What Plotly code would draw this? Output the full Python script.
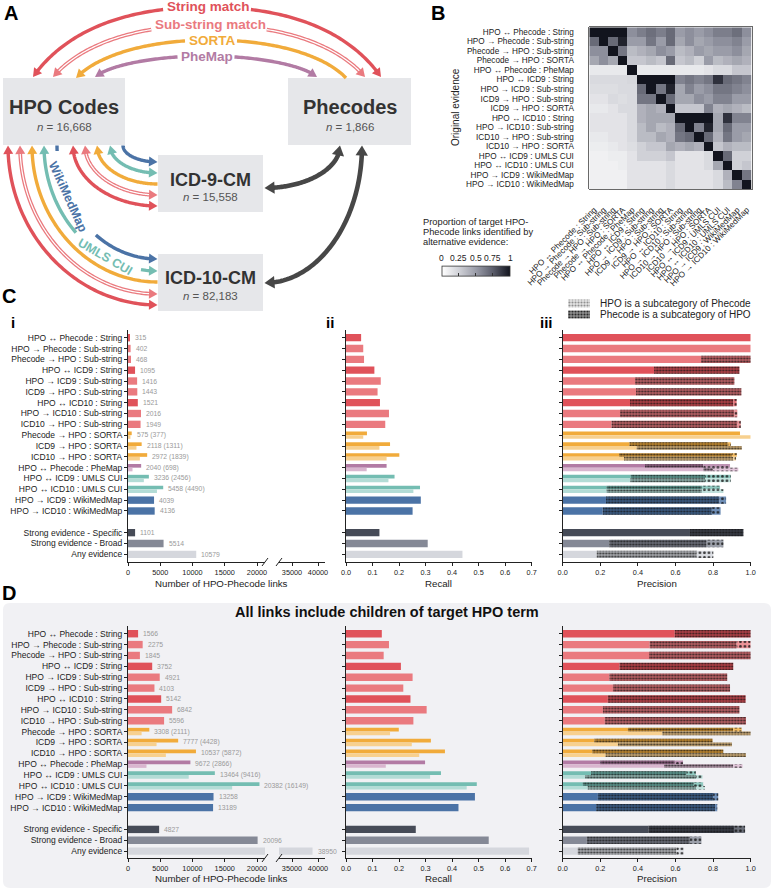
import numpy as np
import plotly.graph_objects as go

W, H = 775, 891
FONT = "Liberation Sans, Arial, Helvetica, sans-serif"


def X(px):
    return px / W


def Y(py):
    return 1 - py / H


# ------------------------------------------------------------------ DATA
evidence_labels = [
    "HPO ↔ Phecode : String", "HPO → Phecode : Sub-string", "Phecode → HPO : Sub-string",
    "Phecode → HPO : SORTA", "HPO ↔ Phecode : PheMap", "HPO ↔ ICD9 : String",
    "HPO → ICD9 : Sub-string", "ICD9 → HPO : Sub-string", "ICD9 → HPO : SORTA",
    "HPO ↔ ICD10 : String", "HPO → ICD10 : Sub-string", "ICD10 → HPO : Sub-string",
    "ICD10 → HPO : SORTA", "HPO ↔ ICD9 : UMLS CUI", "HPO ↔ ICD10 : UMLS CUI",
    "HPO → ICD9 : WikiMedMap", "HPO → ICD10 : WikiMedMap"]
evidence_groups = ["String", "Sub", "Sub", "SORTA", "PheMap", "String", "Sub", "Sub", "SORTA",
                   "String", "Sub", "Sub", "SORTA", "UMLS", "UMLS", "Wiki", "Wiki"]
heat_values = [
    [1.00, 1.00, 1.00, 1.00, 0.55, 0.62, 0.68, 0.62, 0.70, 0.50, 0.55, 0.50, 0.55, 0.62, 0.62, 0.68, 0.55],
    [0.70, 1.00, 0.70, 0.95, 0.50, 0.50, 0.65, 0.50, 0.70, 0.45, 0.55, 0.45, 0.50, 0.55, 0.55, 0.60, 0.50],
    [0.55, 0.55, 1.00, 0.65, 0.35, 0.40, 0.45, 0.55, 0.50, 0.35, 0.40, 0.50, 0.45, 0.50, 0.50, 0.55, 0.45],
    [0.45, 0.55, 0.45, 1.00, 0.30, 0.30, 0.35, 0.30, 0.70, 0.30, 0.35, 0.25, 0.50, 0.35, 0.40, 0.45, 0.40],
    [0.12, 0.12, 0.12, 0.12, 1.00, 0.12, 0.12, 0.12, 0.12, 0.12, 0.12, 0.12, 0.15, 0.20, 0.20, 0.30, 0.30],
    [0.20, 0.20, 0.20, 0.20, 0.22, 1.00, 1.00, 1.00, 1.00, 0.60, 0.65, 0.60, 0.65, 0.90, 0.70, 0.65, 0.60],
    [0.18, 0.18, 0.18, 0.20, 0.20, 0.70, 1.00, 0.65, 0.95, 0.45, 0.60, 0.50, 0.55, 0.65, 0.65, 0.60, 0.55],
    [0.15, 0.15, 0.20, 0.18, 0.20, 0.65, 0.65, 1.00, 0.70, 0.45, 0.45, 0.55, 0.50, 0.60, 0.60, 0.50, 0.50],
    [0.12, 0.12, 0.15, 0.20, 0.20, 0.40, 0.45, 0.40, 1.00, 0.30, 0.30, 0.30, 0.60, 0.40, 0.45, 0.40, 0.35],
    [0.15, 0.15, 0.15, 0.15, 0.20, 0.40, 0.45, 0.45, 0.45, 1.00, 1.00, 1.00, 1.00, 0.45, 0.90, 0.60, 0.60],
    [0.15, 0.15, 0.15, 0.15, 0.20, 0.35, 0.45, 0.35, 0.40, 0.70, 1.00, 0.60, 0.95, 0.45, 0.70, 0.50, 0.50],
    [0.12, 0.12, 0.15, 0.15, 0.20, 0.35, 0.35, 0.45, 0.40, 0.65, 0.70, 1.00, 0.70, 0.40, 0.65, 0.50, 0.45],
    [0.10, 0.10, 0.12, 0.15, 0.18, 0.25, 0.30, 0.30, 0.45, 0.40, 0.45, 0.40, 1.00, 0.30, 0.40, 0.35, 0.35],
    [0.08, 0.08, 0.10, 0.10, 0.15, 0.25, 0.25, 0.25, 0.30, 0.15, 0.15, 0.15, 0.20, 1.00, 0.70, 0.25, 0.25],
    [0.08, 0.08, 0.08, 0.10, 0.15, 0.15, 0.15, 0.15, 0.20, 0.15, 0.15, 0.15, 0.20, 0.45, 1.00, 0.25, 0.30],
    [0.08, 0.08, 0.08, 0.08, 0.15, 0.15, 0.15, 0.15, 0.20, 0.15, 0.15, 0.15, 0.15, 0.20, 0.40, 1.00, 0.65],
    [0.08, 0.08, 0.08, 0.08, 0.15, 0.15, 0.15, 0.15, 0.20, 0.15, 0.15, 0.15, 0.15, 0.20, 0.35, 0.60, 1.00],
]
colorbar_ticks = [0, 0.25, 0.5, 0.75, 1]

bar_labels = [
    "HPO ↔ Phecode : String", "HPO → Phecode : Sub-string", "Phecode → HPO : Sub-string",
    "HPO ↔ ICD9 : String", "HPO → ICD9 : Sub-string", "ICD9 → HPO : Sub-string",
    "HPO ↔ ICD10 : String", "HPO → ICD10 : Sub-string", "ICD10 → HPO : Sub-string",
    "Phecode → HPO : SORTA", "ICD9 → HPO : SORTA", "ICD10 → HPO : SORTA",
    "HPO ↔ Phecode : PheMap", "HPO ↔ ICD9 : UMLS CUI", "HPO ↔ ICD10 : UMLS CUI",
    "HPO → ICD9 : WikiMedMap", "HPO → ICD10 : WikiMedMap",
    "Strong evidence - Specific", "Strong evidence - Broad", "Any evidence"]
bar_groups = ["String", "Sub", "Sub", "String", "Sub", "Sub", "String", "Sub", "Sub",
              "SORTA", "SORTA", "SORTA", "PheMap", "UMLS", "UMLS", "Wiki", "Wiki",
              "Specific", "Broad", "Any"]
bar_slots = list(range(17)) + [18, 19, 20]
NA = None

# Panel C
c_links = [315, 402, 468, 1095, 1416, 1443, 1521, 2016, 1949, 575, 2118, 2972, 2040, 3236, 5458,
           4039, 4136, 1101, 5514, 10579]
c_links_2 = [NA] * 9 + [377, 1311, 1839, 698, 2456, 4490] + [NA] * 5
c_recall = [0.057, 0.065, 0.068, 0.107, 0.131, 0.119, 0.128, 0.162, 0.148, 0.079, 0.166, 0.201,
            0.153, 0.183, 0.279, 0.282, 0.251, 0.126, 0.308, 0.439]
c_recall_2 = [NA] * 9 + [0.065, 0.126, 0.153, 0.078, 0.160, 0.254] + [NA] * 5
c_prec_exact = [1.0, 1.0, 0.736, 0.486, 0.385, 0.39, 0.358, 0.305, 0.26, 0.943, 0.355, 0.30,
                0.438, 0.362, 0.234, 0.23, 0.213, 0.677, 0.248, 0.181]
c_prec_phesub = [1.0, 1.0, 1.0, 0.94, 0.913, 0.95, 0.908, 0.913, 0.929, 0.943, 0.878, 0.90,
                 0.748, 0.757, 0.74, 0.833, 0.793, 0.961, 0.766, 0.713]
c_prec_total = [1.0, 1.0, 1.0, 0.94, 0.913, 0.95, 0.925, 0.929, 0.947, 0.943, 0.894, 0.926,
                0.89, 0.894, 0.837, 0.869, 0.84, 0.961, 0.855, 0.801]
c_prec_exact_2 = [NA] * 9 + [1.0, 0.394, 0.326, 0.748, 0.36, 0.234] + [NA] * 5
c_prec_phesub_2 = [NA] * 9 + [1.0, 0.952, 0.908, 0.80, 0.757, 0.74] + [NA] * 5
c_prec_total_2 = [NA] * 9 + [1.0, 0.952, 0.922, 0.934, 0.894, 0.855] + [NA] * 5

# Panel D
d_links = [1566, 2275, 1845, 3752, 4921, 4103, 5142, 6842, 5596, 3308, 7777, 10537, 9672, 13464,
           20382, 13258, 13189, 4827, 20096, 38950]
d_links_2 = [NA] * 9 + [2111, 4428, 5872, 2866, 9416, 16149] + [NA] * 5
d_recall = [0.135, 0.162, 0.142, 0.207, 0.251, 0.216, 0.243, 0.304, 0.254, 0.199, 0.32, 0.373,
            0.298, 0.358, 0.493, 0.486, 0.424, 0.263, 0.538, 0.69]
d_recall_2 = [NA] * 9 + [0.166, 0.248, 0.276, 0.15, 0.317, 0.455] + [NA] * 5
d_prec_exact = [0.596, 0.463, 0.459, 0.302, 0.249, 0.267, 0.24, 0.214, 0.224, 0.347, 0.169, 0.157,
                0.2, 0.151, 0.107, 0.187, 0.178, 0.457, 0.128, 0.08]
d_prec_phesub = [1.0, 0.925, 1.0, 0.907, 0.875, 0.89, 0.973, 0.94, 0.975, 0.907, 0.797, 0.854,
                 0.596, 0.658, 0.697, 0.8, 0.81, 0.911, 0.676, 0.605]
d_prec_total = [1.0, 1.0, 1.0, 0.907, 0.875, 0.89, 0.973, 0.94, 0.975, 0.952, 0.797, 0.854,
                0.64, 0.708, 0.747, 0.827, 0.822, 0.97, 0.738, 0.644]
d_prec_exact_2 = [NA] * 9 + [0.53, 0.294, 0.228, 0.539, 0.12, 0.133] + [NA] * 5
d_prec_phesub_2 = [NA] * 9 + [1.0, 0.9, 0.975, 0.907, 0.71, 0.71] + [NA] * 5
d_prec_total_2 = [NA] * 9 + [1.0, 0.9, 0.975, 0.957, 0.744, 0.756] + [NA] * 5

# ------------------------------------------------------------------ STYLE
COL = {"String": "#e0525a", "Sub": "#ea7a7f", "SORTA": "#f1ab3b", "PheMap": "#b27ba4",
       "UMLS": "#74bdb2", "Wiki": "#4b73a6", "Specific": "#464b57", "Broad": "#858996",
       "Any": "#d5d7dd"}
LIGHT = {"SORTA": "#f7d08f", "PheMap": "#d9b6cf", "UMLS": "#b3dcd6"}
DARKARROW = "#474747"
TXT = "#222222"


def mix(c, other, t):
    a = [int(c[i:i + 2], 16) for i in (1, 3, 5)]
    b = [int(other[i:i + 2], 16) for i in (1, 3, 5)]
    return "#%02x%02x%02x" % tuple(int(round((1 - t) * p + t * q)) for p, q in zip(a, b))


traces = []
ann = []
shapes = []
heads = []


def text(x, y, s, size, color=TXT, bold=False, xanchor="center", yanchor="middle", angle=0, **kw):
    if bold:
        s = "<b>%s</b>" % s
    d = dict(x=X(x), y=Y(y), xref="paper", yref="paper", text=s, showarrow=False,
             font=dict(size=size, color=color, family=FONT), xanchor=xanchor, yanchor=yanchor,
             textangle=angle)
    d.update(kw)
    ann.append(d)


# ------------------------------------------------------------------ PANEL A (diagram)
def path_from_pts(pts, close=False):
    p = "M " + " L ".join("%.5f,%.5f" % (X(px), Y(py)) for px, py in pts)
    return p + (" Z" if close else "")


def add_poly(pts, color, width):
    shapes.append(dict(type="path", xref="paper", yref="paper", path=path_from_pts(pts),
                       line=dict(color=color, width=width), fillcolor="rgba(0,0,0,0)", layer="above"))


def add_head(tip, u, color, hl, hw):
    ux, uy = u
    nx, ny = -uy, ux
    bx, by = tip[0] - ux * hl, tip[1] - uy * hl
    pts = [tuple(tip), (bx + nx * hw, by + ny * hw), (bx - nx * hw, by - ny * hw)]
    heads.append(dict(type="path", xref="paper", yref="paper", path=path_from_pts(pts, True),
                      fillcolor=color, line=dict(width=0), layer="above"))


def bez(p0, p1, p2, p3, n=80):
    t = np.linspace(0, 1, n)[:, None]
    p0, p1, p2, p3 = [np.asarray(p, float) for p in (p0, p1, p2, p3)]
    return (1 - t) ** 3 * p0 + 3 * (1 - t) ** 2 * t * p1 + 3 * (1 - t) * t ** 2 * p2 + t ** 3 * p3


def quarter(xs, ys, xe, ye, k=0.55):
    return bez((xs, ys), (xs, ys + k * (ye - ys)), (xe - k * (xe - xs), ye), (xe, ye), 100)


def top_arc(xl, xr, yb, yt, ang):
    a = np.radians(ang)
    xm = (xl + xr) / 2
    d = 0.75 * (yb - yt)
    left = bez((xl, yb), (xl + d * np.cos(a), yb - d * np.sin(a)), (xm - 0.5 * (xm - xl), yt), (xm, yt))
    right = bez((xm, yt), (xm + 0.5 * (xr - xm), yt), (xr - d * np.cos(a), yb - d * np.sin(a)), (xr, yb))
    return np.vstack([left, right[1:]])


def arclen(pts):
    return np.concatenate([[0], np.cumsum(np.hypot(*np.diff(pts, axis=0).T))])


def point_at(pts, s, sv):
    return np.array([np.interp(sv, s, pts[:, 0]), np.interp(sv, s, pts[:, 1])])


def draw_curve(pts, color, width, h0=False, h1=False, double=False, gap=None, hl=8.5, hw=5.0):
    pts = np.asarray(pts, float)
    s = arclen(pts)
    tot = s[-1]
    lo, hi = 0.0, tot
    if h0:
        tip = pts[0]
        v = tip - point_at(pts, s, hl)
        add_head(tip, v / np.linalg.norm(v), color, hl, hw)
        lo = hl * 0.8
    if h1:
        tip = pts[-1]
        v = tip - point_at(pts, s, tot - hl)
        add_head(tip, v / np.linalg.norm(v), color, hl, hw)
        hi = tot - hl * 0.8
    ranges = [(lo, hi)] if gap is None else [(lo, gap[0]), (gap[1], hi)]
    for a, b in ranges:
        inner = s[(s > a) & (s < b)]
        sv = np.concatenate([[a], inner, [b]])
        seg = np.column_stack([np.interp(sv, s, pts[:, 0]), np.interp(sv, s, pts[:, 1])])
        add_poly(seg, color, width)
        if double:
            add_poly(seg, "white", width * 0.32)


def gap_label(pts, g0, g1, label, color, size):
    pts = np.asarray(pts, float)
    s = arclen(pts)
    gm = (g0 + g1) / 2
    c = point_at(pts, s, gm)
    d = point_at(pts, s, gm + 2) - point_at(pts, s, gm - 2)
    ang = np.degrees(np.arctan2(d[1], d[0]))
    text(c[0], c[1], label, size, color=color, bold=True, angle=ang)


BOX = "#e6e7ea"
boxes = [(3, 78, 125, 145), (288, 78, 411, 145), (158, 155, 263, 212), (158, 254, 263, 311)]
for x0, y0, x1, y1 in boxes:
    shapes.append(dict(type="rect", xref="paper", yref="paper", x0=X(x0), x1=X(x1), y0=Y(y1), y1=Y(y0),
                       fillcolor=BOX, line=dict(width=0), layer="above"))

text(64, 107, "HPO Codes", 20, color="#333", bold=True)
text(64, 127, "<i>n</i> = 16,668", 11.5, color="#555")
text(349.5, 107, "Phecodes", 20, color="#333", bold=True)
text(349.5, 127, "<i>n</i> = 1,866", 11.5, color="#555")
text(210.5, 180, "ICD-9-CM", 18, color="#333", bold=True)
text(210.5, 197, "<i>n</i> = 15,558", 11.5, color="#555")
text(210.5, 278, "ICD-10-CM", 18, color="#333", bold=True)
text(210.5, 296, "<i>n</i> = 82,183", 11.5, color="#555")

# top arcs: (left x, right x, base y, top y, angle, colour, double, head left, head right, label, label width)
top_arcs = [
    (33, 381, 77, 7, 55, COL["String"], False, True, True, "String match", 84),
    (53, 365, 77, 25, 50, COL["Sub"], True, True, True, "Sub-string match", 112),
    (76, 346, 78, 40, 47, COL["SORTA"], False, True, False, "SORTA", 48),
    (95, 317, 77, 56, 42, COL["PheMap"], False, True, True, "PheMap", 53),
]
for xl, xr, yb, yt, ang, col, dbl, hl0, hl1, lab, lw in top_arcs:
    pts = top_arc(xl, xr, yb, yt, ang)
    tot = arclen(pts)[-1]
    g = (tot / 2 - lw / 2 - 2, tot / 2 + lw / 2 + 2)
    draw_curve(pts, col, 3.8 if dbl else 3.4, hl0, hl1, double=dbl, gap=g)
    text((xl + xr) / 2 + 1, yt, lab, 13.5, color=col, bold=True)

# arcs from HPO codes to ICD boxes: (start x, end y, colour, double, head at HPO, head at ICD)
icd9_arcs = [(73, 206, COL["String"], False, True, True), (85, 195, COL["Sub"], True, True, True),
             (97, 184, COL["SORTA"], False, True, False), (110, 173, COL["UMLS"], False, True, True),
             (123, 162, COL["Wiki"], False, False, True)]
icd10_arcs = [(8, 305, COL["String"], False, True, True), (20, 294, COL["Sub"], True, True, True),
              (32, 282, COL["SORTA"], False, True, False), (44, 271, COL["UMLS"], False, True, True),
              (57, 259, COL["Wiki"], False, False, True)]
for xs, ye, col, dbl, h0, h1 in icd9_arcs:
    pts = quarter(xs, 145.5, 157.5, ye)
    draw_curve(pts, col, 3.8 if dbl else 3.4, h0, h1, double=dbl)
for xs, ye, col, dbl, h0, h1 in icd10_arcs:
    pts = quarter(xs, 145.5, 157.5, ye)
    s = arclen(pts)
    gap = None
    if col == COL["Wiki"]:
        gap = (np.interp(151, pts[:, 1], s), np.interp(235, pts[:, 1], s))
        gap_label(pts, gap[0], gap[1], "WikiMedMap", col, 12.5)
    elif col == COL["UMLS"]:
        gap = (np.interp(76, pts[:, 0], s), np.interp(141, pts[:, 0], s))
        gap_label(pts, gap[0], gap[1], "UMLS CUI", col, 12.5)
    draw_curve(pts, col, 3.8 if dbl else 3.4, h0, h1, double=dbl, gap=gap)

# Phecodes <-> ICD arrows
draw_curve(quarter(340, 145.5, 264.5, 188), DARKARROW, 4.6, True, True, hl=10, hw=6.2)
draw_curve(quarter(362, 145.5, 264.5, 283), DARKARROW, 4.6, True, True, hl=10, hw=6.2)

# ------------------------------------------------------------------ PANEL B (heatmap)
HX0, HX1, HY0, HY1 = 589.3, 751.7, 27.3, 189.0
cell = (HX1 - HX0) / 17
cscale = [[0, "#ffffff"], [0.25, "#d0d1d7"], [0.5, "#9a9ca8"], [0.75, "#5b5d6b"], [1, "#12141e"]]
traces.append(go.Heatmap(
    z=heat_values, x=list(range(17)), y=list(range(17)), colorscale=cscale, zmin=0, zmax=1,
    xaxis="x", yaxis="y", hoverinfo="skip",
    colorbar=dict(orientation="h", x=X(475.9), xanchor="center", y=Y(273), yanchor="middle",
                  len=68.3, lenmode="pixels", thickness=10, thicknessmode="pixels",
                  outlinewidth=0.8, outlinecolor="#333", showticklabels=False, ticks="inside",
                  tickvals=colorbar_ticks, ticklen=3, tickcolor="#333", xpad=0, ypad=0)))
sq_cols = [COL[g] for g in evidence_groups]
xsq = -0.5 - (HX0 - 583) / cell
ysq = 16.5 + (194.3 - HY1) / cell
traces.append(go.Scatter(x=[xsq] * 17, y=list(range(17)), mode="markers", xaxis="x", yaxis="y",
                         marker=dict(symbol="square", size=6.5, color=sq_cols, line=dict(width=0)),
                         cliponaxis=False, hoverinfo="skip"))
traces.append(go.Scatter(x=list(range(17)), y=[ysq] * 17, mode="markers", xaxis="x", yaxis="y",
                         marker=dict(symbol="square", size=6.5, color=sq_cols, line=dict(width=0)),
                         cliponaxis=False, hoverinfo="skip"))
traces.append(go.Scatter(x=[-0.5 - (HX0 - 578.3) / cell] * 17, y=list(range(17)), mode="markers",
                         xaxis="x", yaxis="y", cliponaxis=False, hoverinfo="skip",
                         marker=dict(symbol="line-ew", size=4, line=dict(width=1, color="#555"))))
traces.append(go.Scatter(x=list(range(17)), y=[16.5 + (199.5 - HY1) / cell] * 17, mode="markers",
                         xaxis="x", yaxis="y", cliponaxis=False, hoverinfo="skip",
                         marker=dict(symbol="line-ns", size=4, line=dict(width=1, color="#555"))))

text(455, 107, "Original evidence", 10, angle=-90)
text(421, 222, "Proportion of target HPO-", 9.3, xanchor="left")
text(421, 232, "Phecode links identified by", 9.3, xanchor="left")
text(421, 242, "alternative evidence:", 9.3, xanchor="left")
for v in colorbar_ticks:
    text(441.7 + v * 68.3, 258, "%g" % v, 8.5)

# ------------------------------------------------------------------ PANELS C / D (bars)
BAR_W = 0.68


def rows(vals, vals2):
    ys, ws, xs, cs = [], [], [], []
    for i, (v, v2) in enumerate(zip(vals, vals2)):
        g = bar_groups[i]
        if v2 is None:
            ys.append(bar_slots[i]); ws.append(BAR_W); xs.append(v); cs.append(COL[g])
        else:
            ys += [bar_slots[i] - BAR_W / 4, bar_slots[i] + BAR_W / 4]
            ws += [BAR_W / 2, BAR_W / 2]
            xs += [v, v2]
            cs += [COL[g], LIGHT[g]]
    return ys, ws, xs, cs


def simple_bars(vals, vals2, xa, ya):
    ys, ws, xs, cs = rows(vals, vals2)
    traces.append(go.Bar(x=xs, y=ys, width=ws, orientation="h", base=0, xaxis=xa, yaxis=ya,
                         marker=dict(color=cs, line=dict(width=0)), hoverinfo="skip"))


def pattern_segment(starts, ends, ys, ws, cs, xa, ya, shade, size, solidity, opacity):
    idx = [k for k in range(len(ys)) if ends[k] > starts[k] + 1e-9]
    if not idx:
        return
    xs = [ends[k] - starts[k] for k in idx]
    bs = [starts[k] for k in idx]
    yy = [ys[k] for k in idx]
    ww = [ws[k] for k in idx]
    traces.append(go.Bar(x=xs, base=bs, y=yy, width=ww, orientation="h", xaxis=xa, yaxis=ya,
                         hoverinfo="skip",
                         marker=dict(color=[shade(cs[k]) for k in idx], line=dict(width=0))))
    traces.append(go.Bar(x=xs, base=bs, y=yy, width=ww, orientation="h", xaxis=xa, yaxis=ya,
                         hoverinfo="skip",
                         marker=dict(color="rgba(0,0,0,0)", line=dict(width=0),
                                     pattern=dict(shape=".", fillmode="replace", bgcolor="rgba(0,0,0,0)",
                                                  fgcolor="#111111", fgopacity=opacity, size=size,
                                                  solidity=solidity))))


def prec_bars(e, p, t, e2, p2, t2, xa, ya):
    ys, ws, es, cs = rows(e, e2)
    _, _, ps, _ = rows(p, p2)
    _, _, ts, _ = rows(t, t2)
    traces.append(go.Bar(x=es, y=ys, width=ws, orientation="h", base=0, xaxis=xa, yaxis=ya,
                         marker=dict(color=cs, line=dict(width=0)), hoverinfo="skip"))
    pattern_segment(es, ps, ys, ws, cs, xa, ya, lambda c: mix(c, "#000000", 0.22), 3, 0.38, 0.75)
    pattern_segment(ps, ts, ys, ws, cs, xa, ya, lambda c: mix(c, "#ffffff", 0.2), 4.5, 0.3, 0.8)


def count_labels(vals, vals2, xa1, xa2, ya, brk):
    for i, (v, v2) in enumerate(zip(vals, vals2)):
        s = "%d" % v if v2 is None else "%d (%d)" % (v, v2)
        ann.append(dict(x=v, y=bar_slots[i], xref=xa2 if v > brk else xa1, yref=ya, text=s,
                        showarrow=False, xanchor="left", yanchor="middle", xshift=3,
                        font=dict(size=6.8, color="#9a9a9a", family=FONT)))


# C
simple_bars(c_links, c_links_2, "x2", "y2")
simple_bars(c_links, c_links_2, "x3", "y2")
count_labels(c_links, c_links_2, "x2", "x3", "y2", 21240)
simple_bars(c_recall, c_recall_2, "x4", "y3")
prec_bars(c_prec_exact, c_prec_phesub, c_prec_total, c_prec_exact_2, c_prec_phesub_2, c_prec_total_2,
          "x5", "y4")
# D
simple_bars(d_links, d_links_2, "x6", "y5")
simple_bars(d_links, d_links_2, "x7", "y5")
count_labels(d_links, d_links_2, "x6", "x7", "y5", 21240)
simple_bars(d_recall, d_recall_2, "x8", "y6")
prec_bars(d_prec_exact, d_prec_phesub, d_prec_total, d_prec_exact_2, d_prec_phesub_2, d_prec_total_2,
          "x9", "y7")

# legend swatches for panel C iii
legend_names = ["HPO is a subcategory of Phecode", "Phecode is a subcategory of HPO"]
for yy, base_col, dot_col in ((0, "#e4e4e4", "#7a7a7a"), (1, "#8f8f8f", "#111111")):
    traces.append(go.Bar(x=[1], y=[yy], width=[0.72], base=0, orientation="h", xaxis="x10",
                         yaxis="y8", hoverinfo="skip", marker=dict(color=base_col, line=dict(width=0))))
    traces.append(go.Bar(x=[1], y=[yy], width=[0.72], base=0, orientation="h", xaxis="x10",
                         yaxis="y8", hoverinfo="skip",
                         marker=dict(color="rgba(0,0,0,0)", line=dict(width=0),
                                     pattern=dict(shape=".", fillmode="replace", bgcolor="rgba(0,0,0,0)",
                                                  fgcolor=dot_col, fgopacity=0.8, size=3, solidity=0.4))))
text(598, 303.5, legend_names[0], 10, xanchor="left")
text(598, 314.5, legend_names[1], 10, xanchor="left")

# panel D background and title
r = 7
x0, y0, x1, y1 = 3, 603, 771, 888
bg = ("M %f,%f L %f,%f Q %f,%f %f,%f L %f,%f Q %f,%f %f,%f L %f,%f Q %f,%f %f,%f L %f,%f Q %f,%f %f,%f Z"
      % (X(x0 + r), Y(y0), X(x1 - r), Y(y0), X(x1), Y(y0), X(x1), Y(y0 + r), X(x1), Y(y1 - r),
         X(x1), Y(y1), X(x1 - r), Y(y1), X(x0 + r), Y(y1), X(x0), Y(y1), X(x0), Y(y1 - r),
         X(x0), Y(y0 + r), X(x0), Y(y0), X(x0 + r), Y(y0)))
shapes.insert(0, dict(type="path", xref="paper", yref="paper", path=bg, fillcolor="#f1f1f4",
                      line=dict(width=0), layer="below"))
text(387, 612, "All links include children of target HPO term", 14.5, color="#111", bold=True)

# axis break marks
for yb in (562, 858):
    for xb in (265, 279):
        shapes.append(dict(type="line", xref="paper", yref="paper", x0=X(xb - 3), y0=Y(yb + 4),
                           x1=X(xb + 3), y1=Y(yb - 4), line=dict(color="#222", width=1), layer="above"))

# axis titles and panel letters
for yt in (583, 878.7):
    text(221.7, yt, "Number of HPO-Phecode links", 9.7)
    text(438.8, yt, "Recall", 9.7)
    text(656.7, yt, "Precision", 9.7)
text(11, 13, "A", 20, color="#000", bold=True)
text(438, 13, "B", 20, color="#000", bold=True)
text(9, 296, "C", 20, color="#000", bold=True)
text(9, 593, "D", 20, color="#000", bold=True)
text(13, 322, "i", 15, color="#000", bold=True)
text(330, 322, "ii", 15, color="#000", bold=True)
text(546, 322, "iii", 15, color="#000", bold=True)

# ------------------------------------------------------------------ LAYOUT
AX = dict(showgrid=False, zeroline=False, showline=True, linecolor="#222", linewidth=1,
          ticks="outside", ticklen=3, tickwidth=1, tickcolor="#222", automargin=False,
          tickfont=dict(size=7.3, color=TXT, family=FONT))


def xax(px0, px1, rng, anchor, **kw):
    d = dict(AX, domain=[X(px0), X(px1)], range=rng, anchor=anchor)
    d.update(kw)
    return d


def yax(py_top, py_bot, rng, anchor, labels=False):
    d = dict(AX, domain=[Y(py_bot), Y(py_top)], range=rng, anchor=anchor, tickvals=bar_slots)
    if labels:
        d.update(ticktext=bar_labels, tickfont=dict(size=8.5, color=TXT, family=FONT))
    else:
        d.update(showticklabels=False)
    return d


CY = (330, 562, [20.71, -0.71])
DY = (626, 858, [20.63, -0.71])
layout = dict(
    template="none",
    width=W, height=H, margin=dict(l=0, r=0, t=0, b=0, autoexpand=False), showlegend=False,
    barmode="overlay",
    paper_bgcolor="white", plot_bgcolor="rgba(0,0,0,0)", font=dict(family=FONT, color=TXT),
    xaxis=dict(domain=[X(HX0), X(HX1)], range=[-0.5, 16.5], anchor="y", tickvals=list(range(17)),
               ticktext=evidence_labels, tickangle=-45, ticks="", showgrid=False, zeroline=False,
               showline=True, mirror=True, linecolor="#444", linewidth=0.8, ticklabelstandoff=12,
               automargin=False, tickfont=dict(size=8.2, color=TXT, family=FONT)),
    yaxis=dict(domain=[Y(HY1), Y(HY0)], range=[16.5, -0.5], anchor="x", tickvals=list(range(17)),
               ticktext=evidence_labels, ticks="", showgrid=False, zeroline=False,
               showline=True, mirror=True, linecolor="#444", linewidth=0.8, ticklabelstandoff=13,
               automargin=False, tickfont=dict(size=8.2, color=TXT, family=FONT)),
    xaxis2=xax(128, 265, [0, 21240], "y2", tickvals=[0, 5000, 10000, 15000, 20000], tickformat="d"),
    xaxis3=xax(279, 325, [32500, 41346], "y2", tickvals=[35000, 40000], tickformat="d"),
    yaxis2=yax(CY[0], CY[1], CY[2], "x2", labels=True),
    xaxis4=xax(346, 531.7, [0, 0.7], "y3", dtick=0.1, tick0=0, tickformat=".1f"),
    yaxis3=yax(CY[0], CY[1], CY[2], "x4"),
    xaxis5=xax(562.7, 750.7, [0, 1], "y4", dtick=0.2, tick0=0, tickformat=".1f"),
    yaxis4=yax(CY[0], CY[1], CY[2], "x5"),
    xaxis6=xax(128, 265, [0, 21240], "y5", tickvals=[0, 5000, 10000, 15000, 20000], tickformat="d"),
    xaxis7=xax(279, 325, [32500, 41346], "y5", tickvals=[35000, 40000], tickformat="d"),
    yaxis5=yax(DY[0], DY[1], DY[2], "x6", labels=True),
    xaxis8=xax(346, 531.7, [0, 0.7], "y6", dtick=0.1, tick0=0, tickformat=".1f"),
    yaxis6=yax(DY[0], DY[1], DY[2], "x8"),
    xaxis9=xax(562.7, 750.7, [0, 1], "y7", dtick=0.2, tick0=0, tickformat=".1f"),
    yaxis7=yax(DY[0], DY[1], DY[2], "x9"),
    xaxis10=dict(domain=[X(568), X(590)], range=[0, 1], anchor="y8", visible=False),
    yaxis8=dict(domain=[Y(320), Y(298)], range=[1.5, -0.5], anchor="x10", visible=False),
    shapes=shapes + heads,
    annotations=ann,
)

fig = go.Figure(data=traces, layout=layout)
fig.write_html("out.html", config={"displayModeBar": False, "staticPlot": True},
               post_script="document.body.style.margin='0px';document.body.style.padding='0px';"
                           "document.body.style.overflow='hidden';")
